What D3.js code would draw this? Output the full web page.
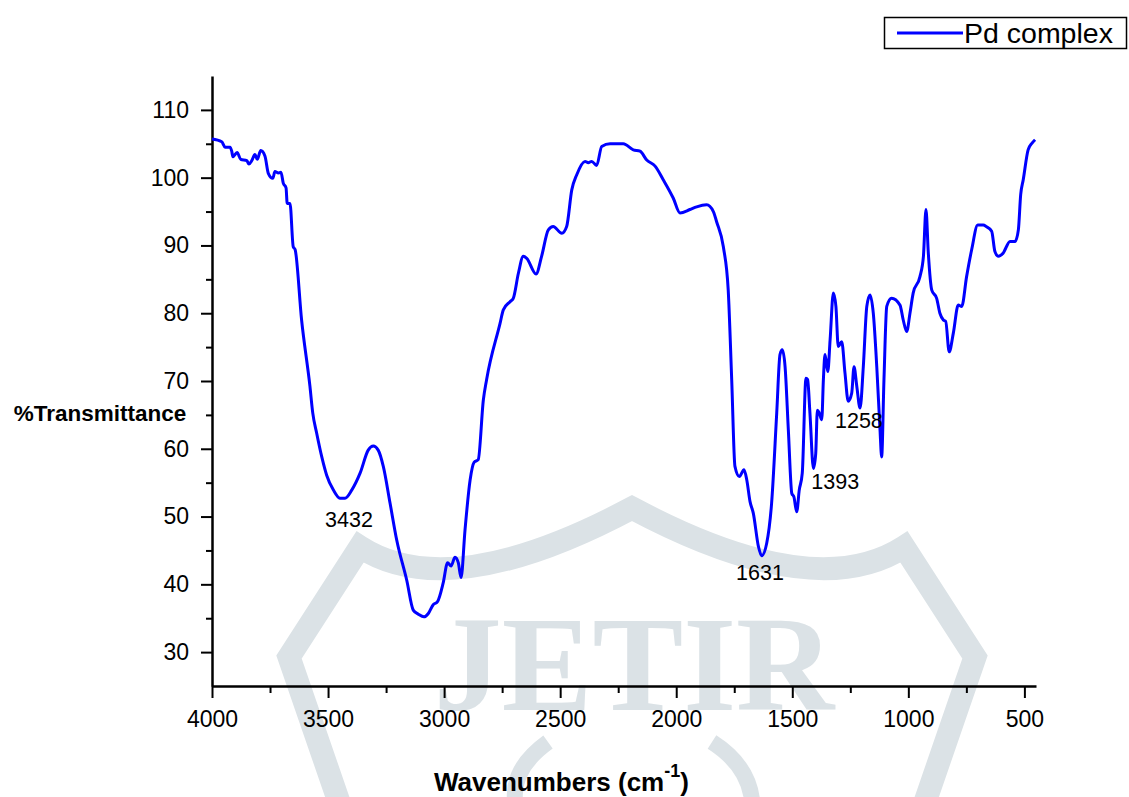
<!DOCTYPE html>
<html>
<head>
<meta charset="utf-8">
<script src="https://cdn.jsdelivr.net/npm/d3@7"></script>
<style>
  body { margin: 0; background: #fff; }
  text { font-family: "Liberation Sans", Arial, sans-serif; }
</style>
</head>
<body>
<script>
// IR spectrum of the Pd complex
const wavenumbers = [4000, 3958, 3944, 3922, 3915, 3910, 3892, 3876, 3850, 3841, 3829, 3815, 3805, 3790, 3772,
  3757, 3738, 3729, 3714, 3703, 3693, 3681, 3676, 3664, 3650, 3642, 3614, 3578, 3566, 3549, 3527, 3506, 3477,
  3449, 3427, 3398, 3362, 3327, 3305, 3284, 3262, 3233, 3204, 3161, 3133, 3111, 3087, 3068, 3047, 3029, 3004,
  2985, 2970, 2953, 2939, 2927, 2910, 2888, 2871, 2853, 2831, 2817, 2759, 2745, 2716, 2702, 2680, 2659, 2644,
  2604, 2580, 2551, 2530, 2493, 2472, 2450, 2429, 2393, 2379, 2364, 2343, 2321, 2285, 2228, 2185, 2156, 2127,
  2091, 2056, 2013, 1984, 1941, 1912, 1869, 1840, 1826, 1797, 1776, 1761, 1747, 1728, 1708, 1696, 1682, 1668,
  1646, 1632, 1610, 1589, 1567, 1553, 1543, 1531, 1517, 1502, 1493, 1481, 1470, 1457, 1441, 1434, 1424, 1409,
  1399, 1392, 1384, 1373, 1366, 1359, 1347, 1337, 1323, 1312, 1302, 1287, 1273, 1259, 1244, 1234, 1222, 1208,
  1194, 1179, 1165, 1151, 1136, 1122, 1115, 1105, 1093, 1072, 1036, 1022, 1007, 993, 979, 950, 935, 924, 914,
  899, 878, 864, 849, 839, 824, 806, 785, 770, 749, 727, 701, 677, 665, 641, 627, 612, 591, 562, 540, 526, 516,
  505, 484, 467, 454];
const transmittance = [105.7, 105.3, 104.5, 104.5, 103.9, 103.1, 103.7, 102.7, 102.5, 102.0, 102.5, 103.4, 102.7, 104.0, 103.2,
  100.6, 99.9, 100.9, 100.7, 100.8, 99.2, 98.5, 96.2, 96.2, 89.8, 89.4, 79.0, 69.2, 65.3, 62.3, 58.8, 56.1, 53.9,
  52.7, 52.7, 53.9, 56.4, 59.8, 60.4, 59.8, 57.4, 52.0, 46.5, 40.6, 36.2, 35.6, 35.2, 35.7, 37.0, 37.4, 40.2,
  43.2, 42.7, 44.0, 43.2, 41.0, 48.0, 55.4, 58.0, 58.4, 67.2, 70.2, 78.5, 80.5, 81.7, 82.2, 85.9, 88.4, 88.1,
  85.8, 88.4, 92.3, 92.8, 91.8, 92.8, 98.2, 100.4, 102.4, 102.2, 102.4, 101.8, 104.6, 105.0, 105.0, 104.1, 103.9, 102.6,
  101.7, 99.7, 97.0, 94.8, 95.3, 95.7, 96.0, 95.0, 93.5, 89.8, 83.4, 70.2, 57.4, 55.9, 56.9, 55.4, 52.2, 50.5,
  45.6, 44.2, 46.1, 52.0, 65.3, 73.9, 74.6, 72.1, 62.8, 53.4, 52.9, 50.7, 53.9, 56.4, 70.4, 70.2, 65.3, 57.1,
  59.3, 65.7, 65.3, 64.3, 70.2, 73.9, 71.4, 76.1, 83.0, 81.0, 75.1, 75.8, 71.2, 67.0, 68.2, 72.1, 69.2, 66.0,
  72.1, 81.0, 82.7, 80.0, 72.1, 62.8, 58.8, 70.2, 81.0, 82.2, 81.2, 79.0, 77.3, 80.0, 83.0, 85.4, 88.4, 95.3, 88.9,
  83.4, 82.2, 80.0, 79.0, 78.8, 74.3, 77.1, 81.2, 81.0, 85.4, 89.4, 93.0, 93.0, 92.8, 92.1, 89.1, 88.4, 88.9, 90.6, 90.6, 92.3, 97.5,
  99.7, 104.1, 105.1, 105.6];

const xTicks = [4000, 3500, 3000, 2500, 2000, 1500, 1000, 500];
const yTicks = [30, 40, 50, 60, 70, 80, 90, 100, 110];

// peak labels and where their text sits (wavenumber, %T)
const peakLabels = ["3432", "1631", "1393", "1258"];
const peakLabelWn = [3410, 1639, 1315, 1213];
const peakLabelT = [48.5, 40.7, 54.1, 63.0];

const seriesName = "Pd complex";

const w = 1129, h = 797;
const svg = d3.select("body")
  .append("svg")
  .attr("width", w)
  .attr("height", h);

// faint journal watermark behind the plot
const wm = svg.append("g").attr("fill", "none").attr("stroke", "#dbe2e6");
wm.append("path")
  .attr("d", "M340,805 L289,657 L360,547 Q450,605 632,508 Q814,605 904,547 L975,657 L924,805")
  .attr("stroke-width", 23)
  .attr("stroke-linejoin", "miter");
wm.append("path").attr("d", "M548,742 Q512,768 515,800").attr("stroke-width", 16);
wm.append("path").attr("d", "M712,742 Q748,765 752,800").attr("stroke-width", 16);
svg.append("text")
  .attr("x", 634)
  .attr("y", 710)
  .attr("text-anchor", "middle")
  .attr("fill", "#dbe2e6")
  .style("font-family", "'Liberation Serif', 'Times New Roman', serif")
  .style("font-weight", "bold")
  .style("font-size", "136px")
  .text("JETIR");

const xScale = d3.scaleLinear()
  .domain([4000, 450])
  .range([212, 1036]);

const yScale = d3.scaleLinear()
  .domain([25, 115])
  .range([686, 76]);

// minor ticks first, majors on top
svg.append("g")
  .attr("transform", "translate(0, 686)")
  .call(d3.axisBottom(xScale).tickValues(d3.range(3750, 450, -500)).tickSize(7).tickFormat(""))
  .call(g => g.select(".domain").remove());
svg.append("g")
  .attr("transform", "translate(212, 0)")
  .call(d3.axisLeft(yScale).tickValues(d3.range(35, 115, 10)).tickSize(6).tickFormat(""))
  .call(g => g.select(".domain").remove());

const xAxis = svg.append("g")
  .attr("id", "x-axis")
  .attr("transform", "translate(0, 686)")
  .call(d3.axisBottom(xScale).tickValues(xTicks).tickFormat(d3.format("d"))
    .tickSize(12).tickPadding(13).tickSizeOuter(0));

const yAxis = svg.append("g")
  .attr("id", "y-axis")
  .attr("transform", "translate(212, 0)")
  .call(d3.axisLeft(yScale).tickValues(yTicks).tickFormat(d3.format("d"))
    .tickSize(11).tickPadding(12).tickSizeOuter(0));

svg.selectAll(".tick line").attr("stroke", "#000").attr("stroke-width", 2);
svg.selectAll(".domain").attr("stroke", "#000").attr("stroke-width", 2.5);
svg.selectAll(".tick text")
  .attr("fill", "#000")
  .style("font-family", "'Liberation Sans', Arial, sans-serif")
  .style("font-size", "23px");

const spectrum = wavenumbers.map((d, i) => [d, transmittance[i]]);
const line = d3.line()
  .x(d => xScale(d[0]))
  .y(d => yScale(d[1]))
  .curve(d3.curveMonotoneX);

svg.append("path")
  .datum(spectrum)
  .attr("d", line)
  .attr("fill", "none")
  .attr("stroke", "#0000ff")
  .attr("stroke-width", 3)
  .attr("stroke-linejoin", "round");

svg.selectAll(".peak")
  .data(peakLabels)
  .enter()
  .append("text")
  .attr("class", "peak")
  .attr("x", (d, i) => xScale(peakLabelWn[i]))
  .attr("y", (d, i) => yScale(peakLabelT[i]))
  .attr("text-anchor", "middle")
  .style("font-size", "21.5px")
  .text(d => d);

// axis titles
svg.append("text")
  .attr("x", 100)
  .attr("y", 421)
  .attr("text-anchor", "middle")
  .style("font-weight", "bold")
  .style("font-size", "22.5px")
  .text("%Transmittance");

const xt = svg.append("text")
  .attr("x", 434)
  .attr("y", 791)
  .style("font-weight", "bold")
  .style("font-size", "26px");
xt.append("tspan").text("Wavenumbers (cm");
xt.append("tspan").attr("dy", -14).style("font-size", "18px").text("-1");
xt.append("tspan").attr("dy", 14).text(")");

// legend
const lg = svg.append("g");
lg.append("rect")
  .attr("x", 884.5).attr("y", 17.5)
  .attr("width", 242).attr("height", 31)
  .attr("fill", "#fff").attr("stroke", "#000").attr("stroke-width", 1.5);
lg.append("line")
  .attr("x1", 897).attr("x2", 963)
  .attr("y1", 33).attr("y2", 33)
  .attr("stroke", "#0000ff").attr("stroke-width", 3);
lg.append("text")
  .attr("x", 964).attr("y", 43)
  .style("font-size", "28.5px")
  .text(seriesName);
</script>
</body>
</html>
